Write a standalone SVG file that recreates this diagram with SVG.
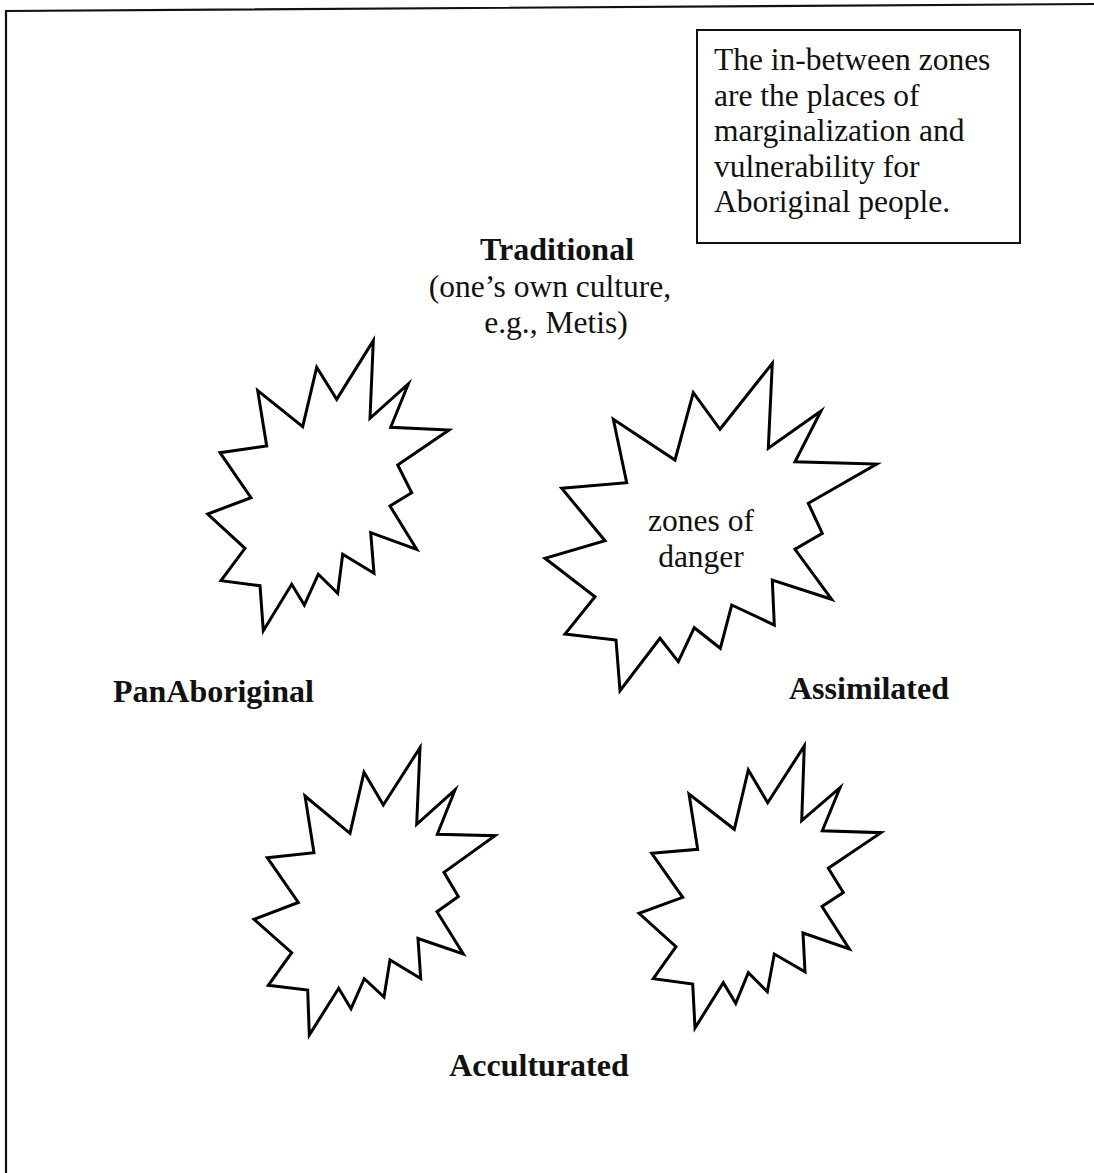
<svg xmlns="http://www.w3.org/2000/svg" width="1094" height="1173" viewBox="0 0 1094 1173">
  <style>
    .frame { fill: none; stroke: #111; stroke-width: 2.2; }
    .box { fill: #fff; stroke: #111; stroke-width: 2; }
    .burst { fill: #fff; stroke: #000; stroke-width: 3; stroke-linejoin: miter; stroke-miterlimit: 10; }
    .txt { font-family: "Liberation Serif", "Times New Roman", serif; font-size: 31.5px; fill: #111; }
    .bold { font-weight: bold; font-size: 32px; }
  </style>

  <rect x="0" y="0" width="1094" height="1173" fill="#fff"/>

  <!-- outer frame (top and left edges visible) -->
  <g id="frame">
    <polyline class="frame" points="1094,4 6,11 6,1173"/>
  </g>

  <!-- note box -->
  <g id="note">
    <rect class="box" x="697" y="30" width="323" height="213"/>
    <text class="txt" x="714" y="70">The in-between zones</text>
    <text class="txt" x="714" y="106">are the places of</text>
    <text class="txt" x="714" y="141">marginalization and</text>
    <text class="txt" x="714" y="177">vulnerability for</text>
    <text class="txt" x="714" y="212">Aboriginal people.</text>
  </g>

  <!-- cultural positions -->
  <g id="traditional">
    <text class="txt bold" x="557" y="260" text-anchor="middle">Traditional</text>
    <text class="txt" x="550" y="297" text-anchor="middle">(one’s own culture,</text>
    <text class="txt" x="556" y="333" text-anchor="middle">e.g., Metis)</text>
  </g>
  <g id="panaboriginal">
    <text class="txt bold" x="113" y="702">PanAboriginal</text>
  </g>
  <g id="assimilated">
    <text class="txt bold" x="789" y="699">Assimilated</text>
  </g>
  <g id="acculturated">
    <text class="txt bold" x="539" y="1076" text-anchor="middle">Acculturated</text>
  </g>

  <!-- in-between zones drawn as starbursts -->
  <g id="zone-upper-left">
    <polygon class="burst" points="373.3,340.7 370,418.3 408.3,384 390.7,427.3 449,430 397.7,465 411.7,492.7 390,506 416.7,549.3 370.7,532.7 374,573.3 342.7,554.3 337.7,593.3 318.3,574.3 304.3,605 291.7,584.3 263.3,630.7 260,585.7 221,580.7 245,548.3 207.7,514 251,497.7 220,452.7 266.7,446 257.7,390.7 302.7,426.7 316.7,367.3 336.7,399.3"/>
  </g>
  <g id="zone-upper-right">
    <polygon class="burst" points="772.3,363.3 768.3,448.3 821,411 795,461.7 876.7,464 808.3,503.3 822.3,533.3 795,549.3 831.7,599.3 772.3,580 774.3,625 731.7,605 720.3,648.3 694.3,627.7 678.3,661.7 660,638.3 620,690.7 616,640 565,634 595,596.7 545,558.3 605,540.7 561.7,488.3 626.7,482.7 613.3,419.3 675,460 693.3,392.7 720,429.3"/>
    <text class="txt" x="701" y="531" text-anchor="middle">zones of</text>
    <text class="txt" x="701" y="567" text-anchor="middle">danger</text>
  </g>
  <g id="zone-lower-left">
    <polygon class="burst" points="420,747.7 416.7,824.3 455,790 437.3,834.3 495,835.7 444,872.3 458.3,896.5 437,911.7 463.3,954 418,938.5 420.7,978.5 390,960 384,997 364.3,978.7 351,1008.7 338.7,988.3 309.3,1035 307.7,990 268.3,985.3 291.7,952.7 254,919.3 298.3,902.5 267.3,857.7 314,852.7 305,796 350,833.3 364,772.3 383.3,805"/>
  </g>
  <g id="zone-lower-right">
    <polygon class="burst" points="804.3,746 801.7,820.7 840,787.7 822.3,830.7 881,832.7 828.3,868.3 843.3,892.5 822,906.5 849.3,949 803,933 805,971.7 774.3,954 767.3,991.7 748.3,972.7 735.7,1003.3 723.3,982.7 695,1028 692.7,984 653.3,978.7 676,946.7 639,913.3 682.7,897.3 651.7,853.3 697.7,849.3 689,794 734.3,829.3 748.3,770 767.7,802.7"/>
  </g>
</svg>
